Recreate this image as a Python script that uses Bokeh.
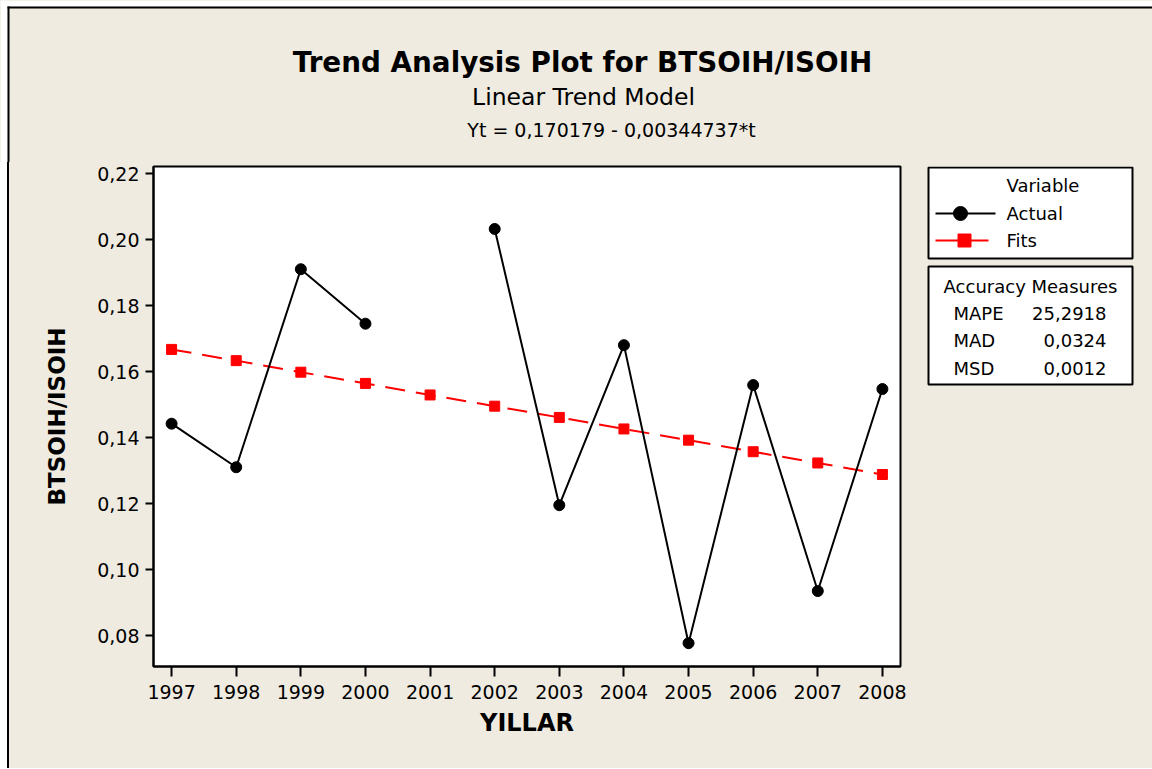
import numpy as np
from bokeh.plotting import figure
from bokeh.layouts import row, column
from bokeh.models import FixedTicker, CustomJSTickFormatter, Range1d
from bokeh.core.properties import value
from bokeh.embed import file_html
from bokeh.resources import INLINE

# ---------------- data ----------------
years = [1997, 1998, 1999, 2000, 2001, 2002, 2003, 2004, 2005, 2006, 2007, 2008]
actual = [0.1442, 0.1310, 0.1910, 0.1745, np.nan, 0.2032, 0.1195, 0.1680, 0.0777, 0.1559, 0.0935, 0.1547]
fits = [0.1667, 0.1633, 0.1598, 0.1564, 0.1529, 0.1495, 0.1461, 0.1426, 0.1392, 0.1357, 0.1323, 0.1288]
y_ticks = [0.08, 0.10, 0.12, 0.14, 0.16, 0.18, 0.20, 0.22]

title_text = "Trend Analysis Plot for BTSOIH/ISOIH"
subtitle_text = "Linear Trend Model"
equation_text = "Yt = 0,170179 - 0,00344737*t"
x_label = "YILLAR"
y_label = "BTSOIH/ISOIH"
legend_title = "Variable"
legend_names = ["Actual", "Fits"]
acc_title = "Accuracy Measures"
acc_names = ["MAPE", "MAD", "MSD"]
acc_values = ["25,2918", "0,0324", "0,0012"]

BG = "#EFEBE1"
FONT = "DejaVu Sans"

TOTAL_W = 1152
TOP_H = 162
L_W = 9
P_LEFT = 144
FRAME_W = 747
P_RIGHT = 20
Q_W = TOTAL_W - L_W - P_LEFT - FRAME_W - P_RIGHT   # 232
B_TOP = 4
FRAME_H = 500
B_BOT = 102


def txt(f, x, y, s, size, bold=False, align="left"):
    f.text(x=[x], y=[y], text=[s], text_font=value(FONT), text_font_size=value(size),
           text_font_style="bold" if bold else "normal", text_align=align,
           text_baseline="middle", text_color="black")


def bare(f):
    f.grid.visible = False
    f.outline_line_color = None
    f.background_fill_color = BG
    f.border_fill_color = BG
    return f


# ---------------- top strip: titles + outer border ----------------
top = bare(figure(frame_width=TOTAL_W, frame_height=TOP_H, x_range=Range1d(0, TOTAL_W),
                  y_range=Range1d(TOP_H, 0), x_axis_type=None, y_axis_type=None,
                  toolbar_location=None, output_backend="svg", title=None, min_border=0,
                  min_border_left=0, min_border_right=0, min_border_top=0, min_border_bottom=0))
top.quad(left=[0], right=[TOTAL_W], top=[0], bottom=[6], fill_color="white", line_color=None)
top.quad(left=[0], right=[7], top=[0], bottom=[TOP_H], fill_color="white", line_color=None)
top.quad(left=[7], right=[TOTAL_W], top=[6], bottom=[8], fill_color="black", line_color=None)
top.quad(left=[7], right=[9], top=[6], bottom=[TOP_H], fill_color="black", line_color=None)
txt(top, 582, 62, title_text, "27.8px", bold=True, align="center")
txt(top, 583, 96, subtitle_text, "23.5px", align="center")
txt(top, 611, 129, equation_text, "19px", align="center")

# ---------------- left strip: outer border (css background) ----------------
left = figure(frame_width=L_W, frame_height=FRAME_H, x_range=Range1d(0, L_W),
              y_range=Range1d(FRAME_H, 0), x_axis_type=None, y_axis_type=None,
              toolbar_location=None, output_backend="svg", title=None, min_border=0,
              min_border_left=0, min_border_right=0, min_border_top=B_TOP,
              min_border_bottom=B_BOT,
              styles={"background": "linear-gradient(to right, #ffffff 0px, #ffffff 7px, "
                                    "#000000 7px, #000000 9px, " + BG + " 9px)"})
left.grid.visible = False
left.outline_line_color = None
left.background_fill_alpha = 0.0
left.border_fill_alpha = 0.0

# ---------------- main plot ----------------
p = figure(frame_width=FRAME_W, frame_height=FRAME_H, min_border_left=P_LEFT,
           min_border_right=P_RIGHT, min_border_top=B_TOP, min_border_bottom=B_BOT, title=None,
           x_range=Range1d(1996.72, 2008.28), y_range=Range1d(0.07063, 0.22212),
           output_backend="svg", toolbar_location=None)
p.background_fill_color = "white"
p.border_fill_color = BG
p.outline_line_color = "black"
p.outline_line_width = 2
p.grid.visible = False

for ax in (p.xaxis[0], p.yaxis[0]):
    ax.axis_line_color = "black"
    ax.axis_line_width = 2
    ax.major_tick_line_width = 2
    ax.major_tick_line_color = "black"
    ax.minor_tick_line_color = None
    ax.major_tick_in = 0
    ax.major_label_text_font = FONT
    ax.major_label_text_font_size = "19px"
    ax.major_label_text_color = "black"
    ax.axis_label_text_font = FONT
    ax.axis_label_text_font_style = "bold"
    ax.axis_label_text_color = "black"

p.xaxis.ticker = FixedTicker(ticks=years)
p.xaxis.major_tick_out = 10
p.xaxis.major_label_standoff = 8
p.xaxis.axis_label = x_label
p.xaxis.axis_label_text_font_size = "24px"
p.xaxis.axis_label_standoff = 7
p.yaxis.ticker = FixedTicker(ticks=y_ticks)
p.yaxis.major_tick_out = 8
p.yaxis.major_label_standoff = 6
p.yaxis.formatter = CustomJSTickFormatter(code="return tick.toFixed(2).replace('.', ',');")
p.yaxis.axis_label = y_label
p.yaxis.axis_label_text_font_size = "23px"
p.yaxis.axis_label_standoff = 24

p.line(years, fits, line_color="red", line_width=2, line_dash="20 11")
p.scatter(years, fits, marker="square", size=10, fill_color="red", line_color="red")
p.line(years, actual, line_color="black", line_width=2)
p.scatter(years, actual, marker="circle", size=11, fill_color="black", line_color="black")

# ---------------- right strip: legend + accuracy measures ----------------
# frame aligned with the main frame; y measured from the frame top downwards
q = bare(figure(frame_width=Q_W, frame_height=FRAME_H, x_range=Range1d(0, Q_W),
                y_range=Range1d(FRAME_H, 0), x_axis_type=None, y_axis_type=None,
                toolbar_location=None, output_backend="svg", title=None, min_border=0,
                min_border_left=0, min_border_right=0, min_border_top=B_TOP,
                min_border_bottom=B_BOT))
q.quad(left=[8], right=[212], top=[1], bottom=[92], fill_color="white", line_color="black", line_width=2)
txt(q, 86, 19, legend_title, "18px")
q.line([15, 75], [47, 47], line_color="black", line_width=2)
q.scatter([40], [47], marker="circle", size=14, fill_color="black", line_color="black")
txt(q, 86, 47, legend_names[0], "18px")
q.line([15, 68], [74, 74], line_color="red", line_width=2)
q.scatter([44], [74], marker="square", size=13, fill_color="red", line_color="red")
txt(q, 86, 74, legend_names[1], "18px")

q.quad(left=[8], right=[212], top=[100], bottom=[218], fill_color="white", line_color="black", line_width=2)
txt(q, 110, 120, acc_title, "18px", align="center")
for i, (n, v) in enumerate(zip(acc_names, acc_values)):
    yy = 147 + i * 27.3
    txt(q, 33, yy, n, "18px")
    txt(q, 186, yy, v, "18px", align="right")

layout = column(top, row(left, p, q, spacing=0), spacing=0, styles={"background-color": BG})
open("out.html", "w").write(file_html(layout, INLINE))
